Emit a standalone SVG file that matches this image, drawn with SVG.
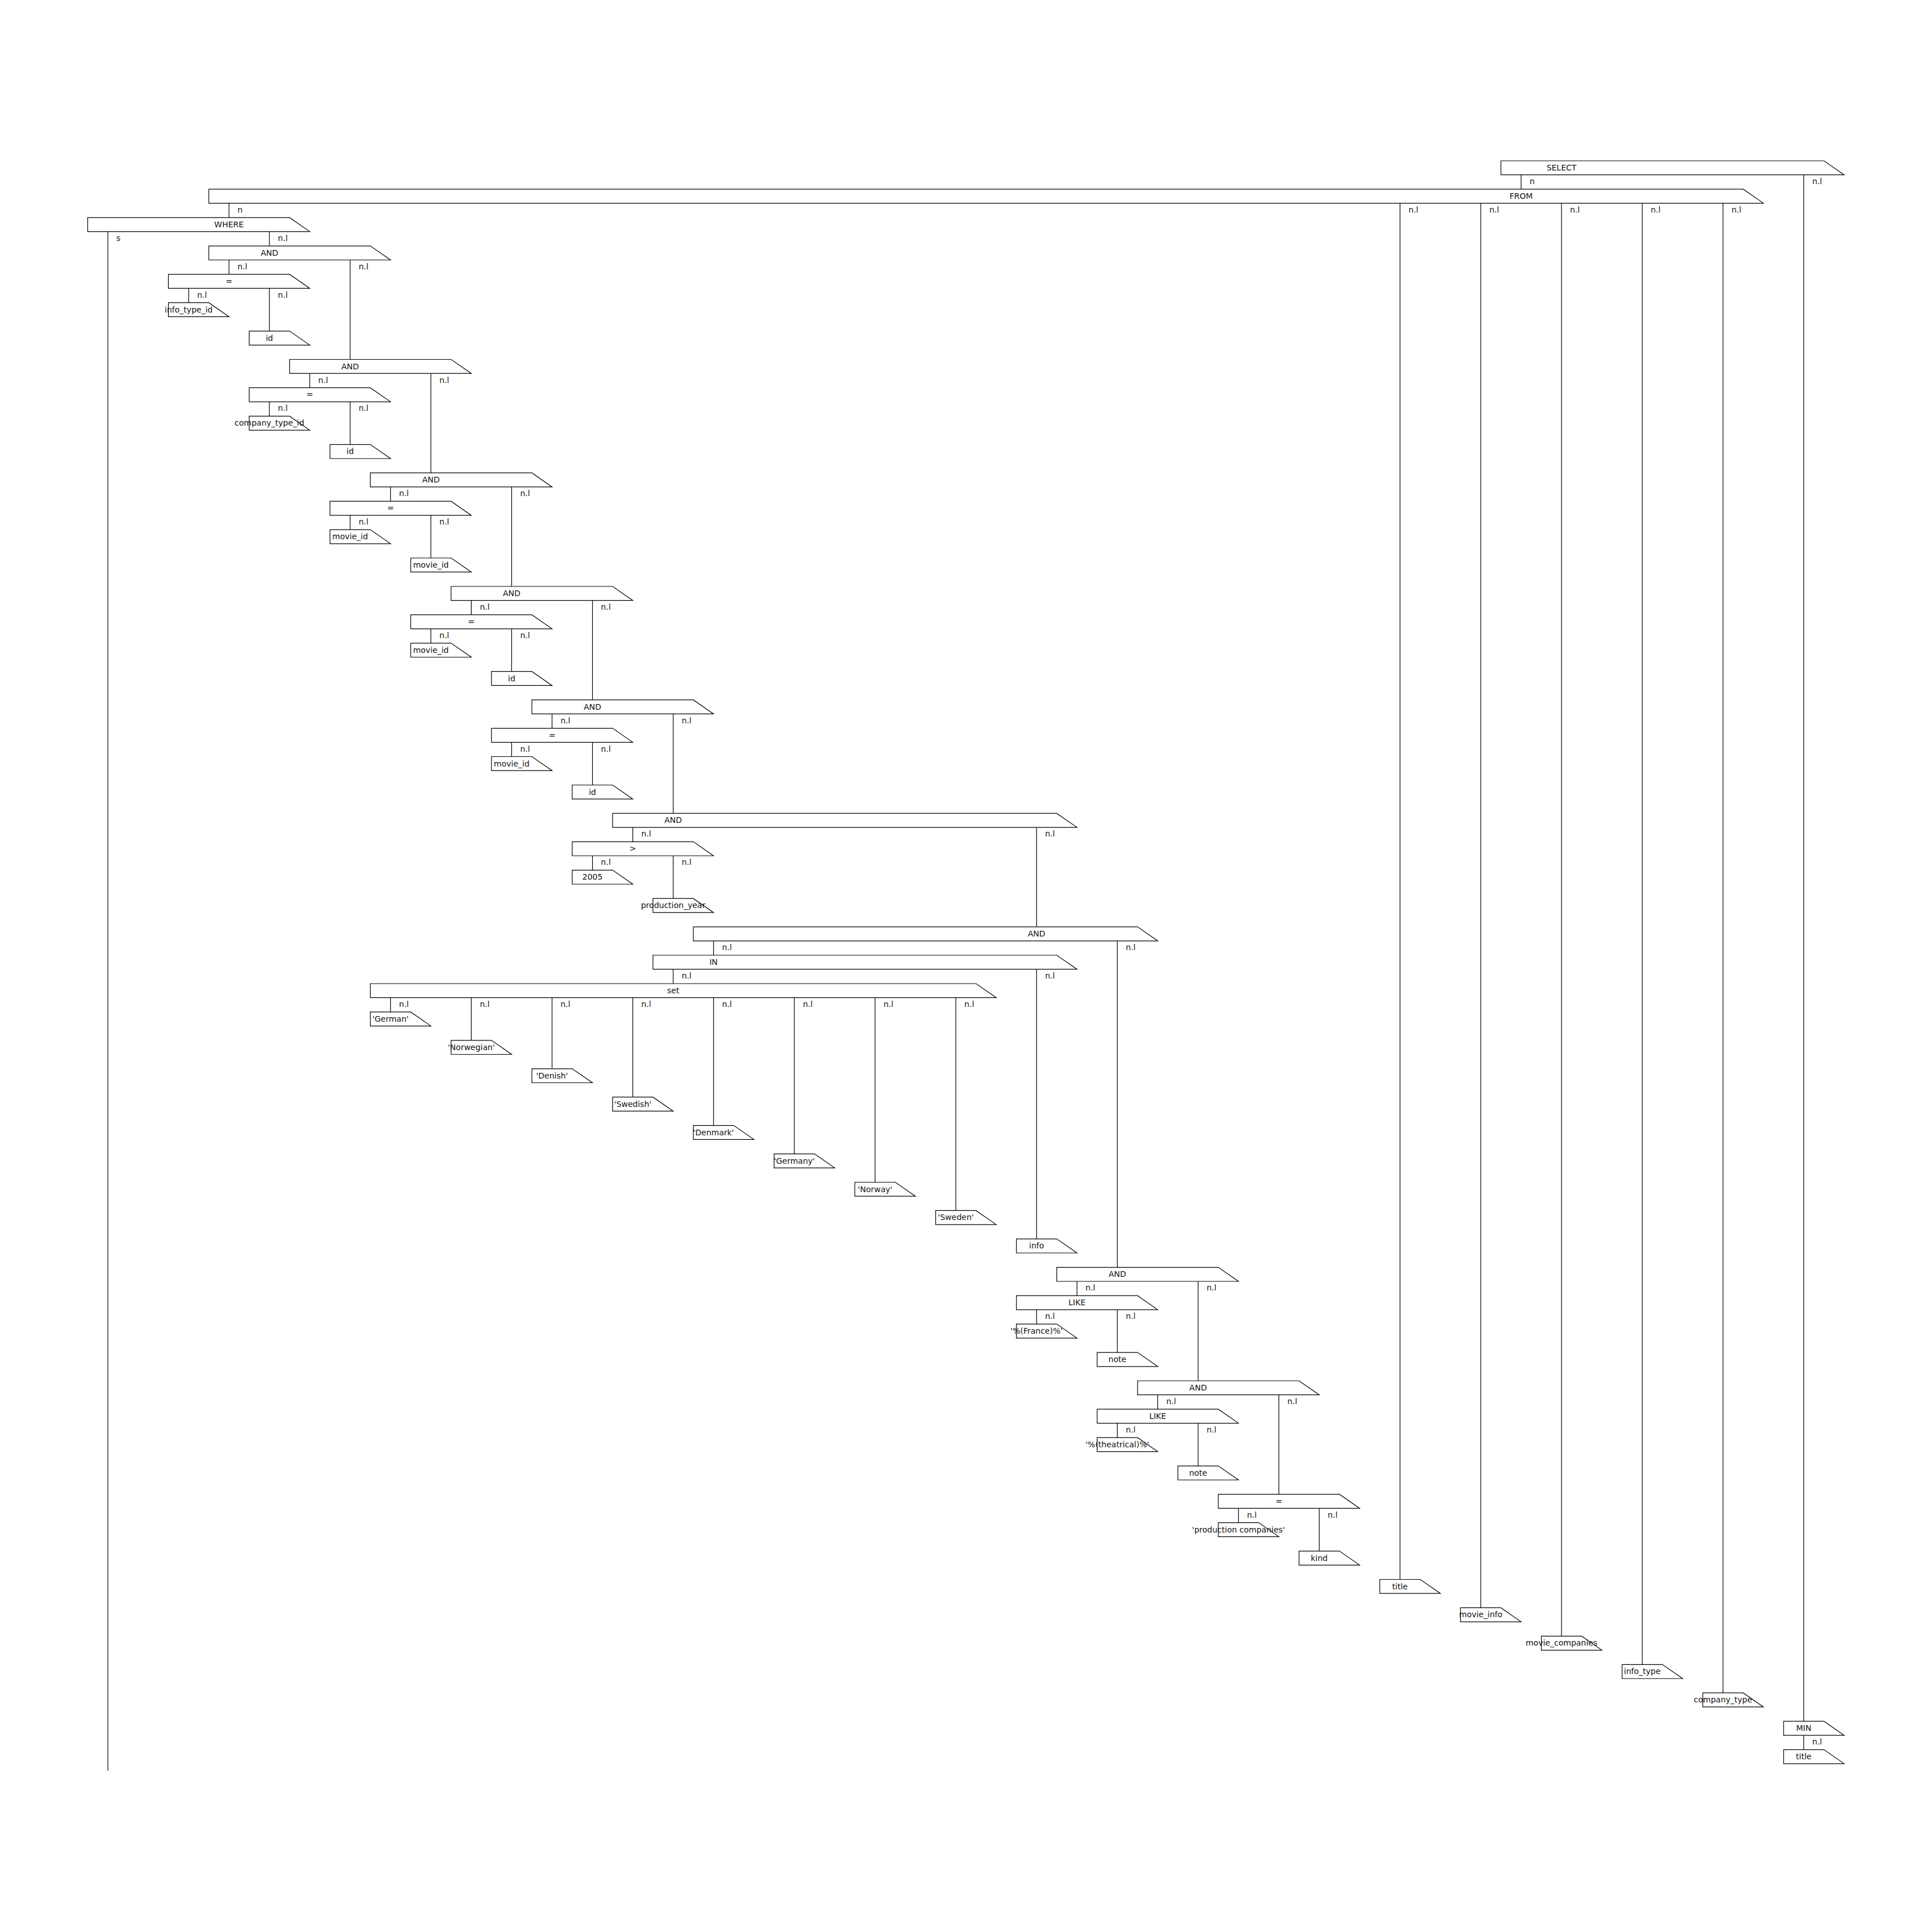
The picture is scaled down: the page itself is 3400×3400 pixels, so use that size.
<svg xmlns="http://www.w3.org/2000/svg" width="3400" height="3400" viewBox="0 0 3400 3400">
<style>
.b{fill:#fff;stroke:#000;stroke-width:1.2}
.t{font-family:"DejaVu Sans",sans-serif;font-size:14px;text-anchor:middle;fill:#111}
.e{font-family:"DejaVu Sans",sans-serif;font-size:14px;text-anchor:start;fill:#111}
.c line{stroke:#000;stroke-width:1.2}
</style>
<rect width="3400" height="3400" fill="#fff"/>
<g id="connectors" class="c">
<line x1="2676.9" y1="307.7" x2="2676.9" y2="332.9"/><text class="e" x="2691.9" y="324">n</text>
<line x1="3174.3" y1="307.7" x2="3174.3" y2="3029.2"/><text class="e" x="3189.3" y="324">n.l</text>
<line x1="403.0" y1="357.6" x2="403.0" y2="382.9"/><text class="e" x="418.0" y="373.9">n</text>
<line x1="2463.8" y1="357.6" x2="2463.8" y2="2779.5"/><text class="e" x="2478.8" y="373.9">n.l</text>
<line x1="2605.9" y1="357.6" x2="2605.9" y2="2829.4"/><text class="e" x="2620.9" y="373.9">n.l</text>
<line x1="2748.0" y1="357.6" x2="2748.0" y2="2879.4"/><text class="e" x="2763.0" y="373.9">n.l</text>
<line x1="2890.1" y1="357.6" x2="2890.1" y2="2929.3"/><text class="e" x="2905.1" y="373.9">n.l</text>
<line x1="3032.2" y1="357.6" x2="3032.2" y2="2979.2"/><text class="e" x="3047.2" y="373.9">n.l</text>
<line x1="189.8" y1="407.6" x2="189.8" y2="3116"/><text class="e" x="204.8" y="423.9">s</text>
<line x1="474.1" y1="407.6" x2="474.1" y2="432.8"/><text class="e" x="489.1" y="423.9">n.l</text>
<line x1="403.0" y1="457.5" x2="403.0" y2="482.7"/><text class="e" x="418.0" y="473.8">n.l</text>
<line x1="616.2" y1="457.5" x2="616.2" y2="632.5"/><text class="e" x="631.2" y="473.8">n.l</text>
<line x1="332.0" y1="507.4" x2="332.0" y2="532.7"/><text class="e" x="347.0" y="523.7">n.l</text>
<line x1="474.1" y1="507.4" x2="474.1" y2="582.6"/><text class="e" x="489.1" y="523.7">n.l</text>
<line x1="545.1" y1="657.2" x2="545.1" y2="682.4"/><text class="e" x="560.1" y="673.5">n.l</text>
<line x1="758.3" y1="657.2" x2="758.3" y2="832.2"/><text class="e" x="773.3" y="673.5">n.l</text>
<line x1="474.1" y1="707.1" x2="474.1" y2="732.4"/><text class="e" x="489.1" y="723.4">n.l</text>
<line x1="616.2" y1="707.1" x2="616.2" y2="782.3"/><text class="e" x="631.2" y="723.4">n.l</text>
<line x1="687.3" y1="856.9" x2="687.3" y2="882.2"/><text class="e" x="702.3" y="873.2">n.l</text>
<line x1="900.4" y1="856.9" x2="900.4" y2="1032.0"/><text class="e" x="915.4" y="873.2">n.l</text>
<line x1="616.2" y1="906.9" x2="616.2" y2="932.1"/><text class="e" x="631.2" y="923.2">n.l</text>
<line x1="758.3" y1="906.9" x2="758.3" y2="982.0"/><text class="e" x="773.3" y="923.2">n.l</text>
<line x1="829.4" y1="1056.7" x2="829.4" y2="1081.9"/><text class="e" x="844.4" y="1073.0">n.l</text>
<line x1="1042.6" y1="1056.7" x2="1042.6" y2="1231.7"/><text class="e" x="1057.6" y="1073.0">n.l</text>
<line x1="758.3" y1="1106.6" x2="758.3" y2="1131.8"/><text class="e" x="773.3" y="1122.9">n.l</text>
<line x1="900.4" y1="1106.6" x2="900.4" y2="1181.7"/><text class="e" x="915.4" y="1122.9">n.l</text>
<line x1="971.5" y1="1256.4" x2="971.5" y2="1281.6"/><text class="e" x="986.5" y="1272.7">n.l</text>
<line x1="1184.7" y1="1256.4" x2="1184.7" y2="1431.4"/><text class="e" x="1199.7" y="1272.7">n.l</text>
<line x1="900.4" y1="1306.3" x2="900.4" y2="1331.5"/><text class="e" x="915.4" y="1322.6">n.l</text>
<line x1="1042.6" y1="1306.3" x2="1042.6" y2="1381.5"/><text class="e" x="1057.6" y="1322.6">n.l</text>
<line x1="1113.6" y1="1456.1" x2="1113.6" y2="1481.3"/><text class="e" x="1128.6" y="1472.4">n.l</text>
<line x1="1824.2" y1="1456.1" x2="1824.2" y2="1631.1"/><text class="e" x="1839.2" y="1472.4">n.l</text>
<line x1="1042.6" y1="1506.0" x2="1042.6" y2="1531.3"/><text class="e" x="1057.6" y="1522.3">n.l</text>
<line x1="1184.7" y1="1506.0" x2="1184.7" y2="1581.2"/><text class="e" x="1199.7" y="1522.3">n.l</text>
<line x1="1255.7" y1="1655.8" x2="1255.7" y2="1681.0"/><text class="e" x="1270.7" y="1672.1">n.l</text>
<line x1="1966.3" y1="1655.8" x2="1966.3" y2="2230.3"/><text class="e" x="1981.3" y="1672.1">n.l</text>
<line x1="1184.7" y1="1705.7" x2="1184.7" y2="1731.0"/><text class="e" x="1199.7" y="1722.0">n.l</text>
<line x1="1824.2" y1="1705.7" x2="1824.2" y2="2180.3"/><text class="e" x="1839.2" y="1722.0">n.l</text>
<line x1="687.3" y1="1755.7" x2="687.3" y2="1780.9"/><text class="e" x="702.3" y="1772.0">n.l</text>
<line x1="829.4" y1="1755.7" x2="829.4" y2="1830.8"/><text class="e" x="844.4" y="1772.0">n.l</text>
<line x1="971.5" y1="1755.7" x2="971.5" y2="1880.8"/><text class="e" x="986.5" y="1772.0">n.l</text>
<line x1="1113.6" y1="1755.7" x2="1113.6" y2="1930.7"/><text class="e" x="1128.6" y="1772.0">n.l</text>
<line x1="1255.7" y1="1755.7" x2="1255.7" y2="1980.6"/><text class="e" x="1270.7" y="1772.0">n.l</text>
<line x1="1397.9" y1="1755.7" x2="1397.9" y2="2030.6"/><text class="e" x="1412.9" y="1772.0">n.l</text>
<line x1="1540.0" y1="1755.7" x2="1540.0" y2="2080.5"/><text class="e" x="1555.0" y="1772.0">n.l</text>
<line x1="1682.1" y1="1755.7" x2="1682.1" y2="2130.4"/><text class="e" x="1697.1" y="1772.0">n.l</text>
<line x1="1895.3" y1="2255.0" x2="1895.3" y2="2280.2"/><text class="e" x="1910.3" y="2271.3">n.l</text>
<line x1="2108.5" y1="2255.0" x2="2108.5" y2="2430.0"/><text class="e" x="2123.5" y="2271.3">n.l</text>
<line x1="1824.2" y1="2304.9" x2="1824.2" y2="2330.1"/><text class="e" x="1839.2" y="2321.2">n.l</text>
<line x1="1966.3" y1="2304.9" x2="1966.3" y2="2380.1"/><text class="e" x="1981.3" y="2321.2">n.l</text>
<line x1="2037.4" y1="2454.7" x2="2037.4" y2="2479.9"/><text class="e" x="2052.4" y="2471.0">n.l</text>
<line x1="2250.6" y1="2454.7" x2="2250.6" y2="2629.7"/><text class="e" x="2265.6" y="2471.0">n.l</text>
<line x1="1966.3" y1="2504.6" x2="1966.3" y2="2529.9"/><text class="e" x="1981.3" y="2520.9">n.l</text>
<line x1="2108.5" y1="2504.6" x2="2108.5" y2="2579.8"/><text class="e" x="2123.5" y="2520.9">n.l</text>
<line x1="2179.5" y1="2654.4" x2="2179.5" y2="2679.6"/><text class="e" x="2194.5" y="2670.7">n.l</text>
<line x1="2321.6" y1="2654.4" x2="2321.6" y2="2729.6"/><text class="e" x="2336.6" y="2670.7">n.l</text>
<line x1="3174.3" y1="3053.9" x2="3174.3" y2="3079.1"/><text class="e" x="3189.3" y="3070.2">n.l</text>
</g>
<g id="n0"><polygon class="b" points="2641.4,283.0 3209.9,283.0 3245.4,307.7 2641.4,307.7"/><text class="t" x="2748.0" y="300.0">SELECT</text></g>
<g id="n1"><polygon class="b" points="367.5,332.9 3067.8,332.9 3103.3,357.6 367.5,357.6"/><text class="t" x="2676.9" y="349.9">FROM</text></g>
<g id="n2"><polygon class="b" points="154.3,382.9 509.6,382.9 545.1,407.6 154.3,407.6"/><text class="t" x="403.0" y="399.9">WHERE</text></g>
<g id="n3"><polygon class="b" points="367.5,432.8 651.7,432.8 687.3,457.5 367.5,457.5"/><text class="t" x="474.1" y="449.8">AND</text></g>
<g id="n4"><polygon class="b" points="296.4,482.7 509.6,482.7 545.1,507.4 296.4,507.4"/><text class="t" x="403.0" y="499.7">=</text></g>
<g id="n5"><polygon class="b" points="296.4,532.7 367.5,532.7 403.0,557.4 296.4,557.4"/><text class="t" x="332.0" y="549.7">info_type_id</text></g>
<g id="n6"><polygon class="b" points="438.5,582.6 509.6,582.6 545.1,607.3 438.5,607.3"/><text class="t" x="474.1" y="599.6">id</text></g>
<g id="n7"><polygon class="b" points="509.6,632.5 793.8,632.5 829.4,657.2 509.6,657.2"/><text class="t" x="616.2" y="649.5">AND</text></g>
<g id="n8"><polygon class="b" points="438.5,682.4 651.7,682.4 687.3,707.1 438.5,707.1"/><text class="t" x="545.1" y="699.4">=</text></g>
<g id="n9"><polygon class="b" points="438.5,732.4 509.6,732.4 545.1,757.1 438.5,757.1"/><text class="t" x="474.1" y="749.4">company_type_id</text></g>
<g id="n10"><polygon class="b" points="580.7,782.3 651.7,782.3 687.3,807.0 580.7,807.0"/><text class="t" x="616.2" y="799.3">id</text></g>
<g id="n11"><polygon class="b" points="651.7,832.2 936.0,832.2 971.5,856.9 651.7,856.9"/><text class="t" x="758.3" y="849.2">AND</text></g>
<g id="n12"><polygon class="b" points="580.7,882.2 793.8,882.2 829.4,906.9 580.7,906.9"/><text class="t" x="687.3" y="899.2">=</text></g>
<g id="n13"><polygon class="b" points="580.7,932.1 651.7,932.1 687.3,956.8 580.7,956.8"/><text class="t" x="616.2" y="949.1">movie_id</text></g>
<g id="n14"><polygon class="b" points="722.8,982.0 793.8,982.0 829.4,1006.7 722.8,1006.7"/><text class="t" x="758.3" y="999.0">movie_id</text></g>
<g id="n15"><polygon class="b" points="793.8,1032.0 1078.1,1032.0 1113.6,1056.7 793.8,1056.7"/><text class="t" x="900.4" y="1049.0">AND</text></g>
<g id="n16"><polygon class="b" points="722.8,1081.9 936.0,1081.9 971.5,1106.6 722.8,1106.6"/><text class="t" x="829.4" y="1098.9">=</text></g>
<g id="n17"><polygon class="b" points="722.8,1131.8 793.8,1131.8 829.4,1156.5 722.8,1156.5"/><text class="t" x="758.3" y="1148.8">movie_id</text></g>
<g id="n18"><polygon class="b" points="864.9,1181.7 936.0,1181.7 971.5,1206.4 864.9,1206.4"/><text class="t" x="900.4" y="1198.7">id</text></g>
<g id="n19"><polygon class="b" points="936.0,1231.7 1220.2,1231.7 1255.7,1256.4 936.0,1256.4"/><text class="t" x="1042.6" y="1248.7">AND</text></g>
<g id="n20"><polygon class="b" points="864.9,1281.6 1078.1,1281.6 1113.6,1306.3 864.9,1306.3"/><text class="t" x="971.5" y="1298.6">=</text></g>
<g id="n21"><polygon class="b" points="864.9,1331.5 936.0,1331.5 971.5,1356.2 864.9,1356.2"/><text class="t" x="900.4" y="1348.5">movie_id</text></g>
<g id="n22"><polygon class="b" points="1007.0,1381.5 1078.1,1381.5 1113.6,1406.2 1007.0,1406.2"/><text class="t" x="1042.6" y="1398.5">id</text></g>
<g id="n23"><polygon class="b" points="1078.1,1431.4 1859.7,1431.4 1895.3,1456.1 1078.1,1456.1"/><text class="t" x="1184.7" y="1448.4">AND</text></g>
<g id="n24"><polygon class="b" points="1007.0,1481.3 1220.2,1481.3 1255.7,1506.0 1007.0,1506.0"/><text class="t" x="1113.6" y="1498.3">&gt;</text></g>
<g id="n25"><polygon class="b" points="1007.0,1531.3 1078.1,1531.3 1113.6,1556.0 1007.0,1556.0"/><text class="t" x="1042.6" y="1548.3">2005</text></g>
<g id="n26"><polygon class="b" points="1149.1,1581.2 1220.2,1581.2 1255.7,1605.9 1149.1,1605.9"/><text class="t" x="1184.7" y="1598.2">production_year</text></g>
<g id="n27"><polygon class="b" points="1220.2,1631.1 2001.9,1631.1 2037.4,1655.8 1220.2,1655.8"/><text class="t" x="1824.2" y="1648.1">AND</text></g>
<g id="n28"><polygon class="b" points="1149.1,1681.0 1859.7,1681.0 1895.3,1705.7 1149.1,1705.7"/><text class="t" x="1255.7" y="1698.0">IN</text></g>
<g id="n29"><polygon class="b" points="651.7,1731.0 1717.6,1731.0 1753.2,1755.7 651.7,1755.7"/><text class="t" x="1184.7" y="1748.0">set</text></g>
<g id="n30"><polygon class="b" points="651.7,1780.9 722.8,1780.9 758.3,1805.6 651.7,1805.6"/><text class="t" x="687.3" y="1797.9">'German'</text></g>
<g id="n31"><polygon class="b" points="793.8,1830.8 864.9,1830.8 900.4,1855.5 793.8,1855.5"/><text class="t" x="829.4" y="1847.8">'Norwegian'</text></g>
<g id="n32"><polygon class="b" points="936.0,1880.8 1007.0,1880.8 1042.6,1905.5 936.0,1905.5"/><text class="t" x="971.5" y="1897.8">'Denish'</text></g>
<g id="n33"><polygon class="b" points="1078.1,1930.7 1149.1,1930.7 1184.7,1955.4 1078.1,1955.4"/><text class="t" x="1113.6" y="1947.7">'Swedish'</text></g>
<g id="n34"><polygon class="b" points="1220.2,1980.6 1291.3,1980.6 1326.8,2005.3 1220.2,2005.3"/><text class="t" x="1255.7" y="1997.6">'Denmark'</text></g>
<g id="n35"><polygon class="b" points="1362.3,2030.6 1433.4,2030.6 1468.9,2055.3 1362.3,2055.3"/><text class="t" x="1397.9" y="2047.6">'Germany'</text></g>
<g id="n36"><polygon class="b" points="1504.4,2080.5 1575.5,2080.5 1611.0,2105.2 1504.4,2105.2"/><text class="t" x="1540.0" y="2097.5">'Norway'</text></g>
<g id="n37"><polygon class="b" points="1646.6,2130.4 1717.6,2130.4 1753.2,2155.1 1646.6,2155.1"/><text class="t" x="1682.1" y="2147.4">'Sweden'</text></g>
<g id="n38"><polygon class="b" points="1788.7,2180.3 1859.7,2180.3 1895.3,2205.0 1788.7,2205.0"/><text class="t" x="1824.2" y="2197.3">info</text></g>
<g id="n39"><polygon class="b" points="1859.7,2230.3 2144.0,2230.3 2179.5,2255.0 1859.7,2255.0"/><text class="t" x="1966.3" y="2247.3">AND</text></g>
<g id="n40"><polygon class="b" points="1788.7,2280.2 2001.9,2280.2 2037.4,2304.9 1788.7,2304.9"/><text class="t" x="1895.3" y="2297.2">LIKE</text></g>
<g id="n41"><polygon class="b" points="1788.7,2330.1 1859.7,2330.1 1895.3,2354.8 1788.7,2354.8"/><text class="t" x="1824.2" y="2347.1">'%(France)%'</text></g>
<g id="n42"><polygon class="b" points="1930.8,2380.1 2001.9,2380.1 2037.4,2404.8 1930.8,2404.8"/><text class="t" x="1966.3" y="2397.1">note</text></g>
<g id="n43"><polygon class="b" points="2001.9,2430.0 2286.1,2430.0 2321.6,2454.7 2001.9,2454.7"/><text class="t" x="2108.5" y="2447.0">AND</text></g>
<g id="n44"><polygon class="b" points="1930.8,2479.9 2144.0,2479.9 2179.5,2504.6 1930.8,2504.6"/><text class="t" x="2037.4" y="2496.9">LIKE</text></g>
<g id="n45"><polygon class="b" points="1930.8,2529.9 2001.9,2529.9 2037.4,2554.6 1930.8,2554.6"/><text class="t" x="1966.3" y="2546.9">'%(theatrical)%'</text></g>
<g id="n46"><polygon class="b" points="2072.9,2579.8 2144.0,2579.8 2179.5,2604.5 2072.9,2604.5"/><text class="t" x="2108.5" y="2596.8">note</text></g>
<g id="n47"><polygon class="b" points="2144.0,2629.7 2357.2,2629.7 2392.7,2654.4 2144.0,2654.4"/><text class="t" x="2250.6" y="2646.7">=</text></g>
<g id="n48"><polygon class="b" points="2144.0,2679.6 2215.0,2679.6 2250.6,2704.3 2144.0,2704.3"/><text class="t" x="2179.5" y="2696.6">'production companies'</text></g>
<g id="n49"><polygon class="b" points="2286.1,2729.6 2357.2,2729.6 2392.7,2754.3 2286.1,2754.3"/><text class="t" x="2321.6" y="2746.6">kind</text></g>
<g id="n50"><polygon class="b" points="2428.2,2779.5 2499.3,2779.5 2534.8,2804.2 2428.2,2804.2"/><text class="t" x="2463.8" y="2796.5">title</text></g>
<g id="n51"><polygon class="b" points="2570.3,2829.4 2641.4,2829.4 2676.9,2854.1 2570.3,2854.1"/><text class="t" x="2605.9" y="2846.4">movie_info</text></g>
<g id="n52"><polygon class="b" points="2712.5,2879.4 2783.5,2879.4 2819.1,2904.1 2712.5,2904.1"/><text class="t" x="2748.0" y="2896.4">movie_companies</text></g>
<g id="n53"><polygon class="b" points="2854.6,2929.3 2925.6,2929.3 2961.2,2954.0 2854.6,2954.0"/><text class="t" x="2890.1" y="2946.3">info_type</text></g>
<g id="n54"><polygon class="b" points="2996.7,2979.2 3067.8,2979.2 3103.3,3003.9 2996.7,3003.9"/><text class="t" x="3032.2" y="2996.2">company_type</text></g>
<g id="n55"><polygon class="b" points="3138.8,3029.2 3209.9,3029.2 3245.4,3053.9 3138.8,3053.9"/><text class="t" x="3174.3" y="3046.2">MIN</text></g>
<g id="n56"><polygon class="b" points="3138.8,3079.1 3209.9,3079.1 3245.4,3103.8 3138.8,3103.8"/><text class="t" x="3174.3" y="3096.1">title</text></g>
</svg>
